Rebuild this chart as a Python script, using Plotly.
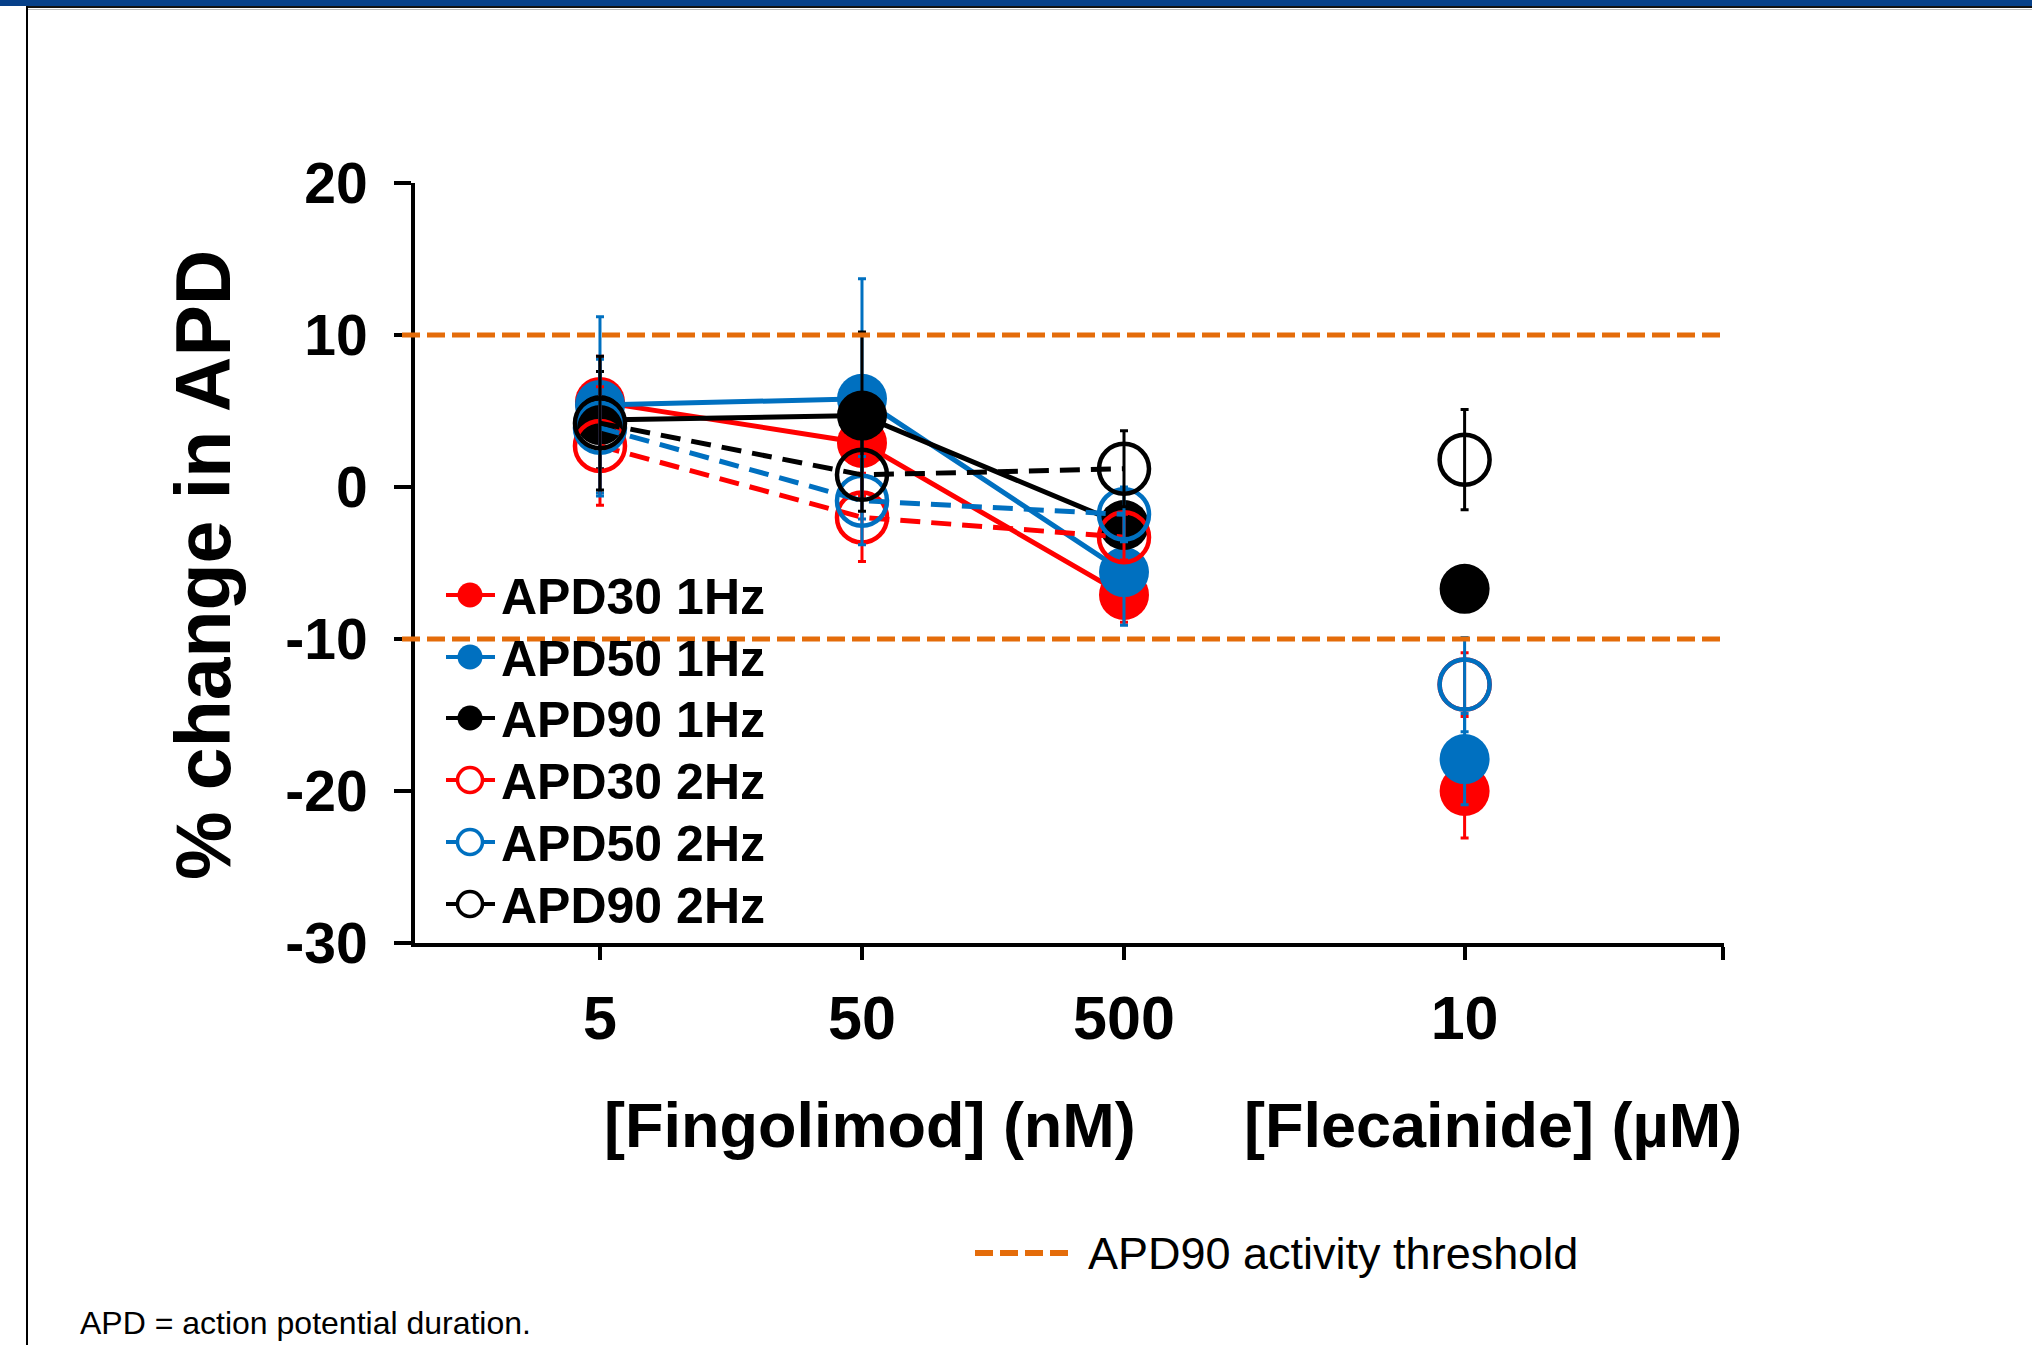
import plotly.graph_objects as go

# ---------------- data ----------------
fingo_doses = ["5", "50", "500"]
flec_doses = ["10"]
fingo_pos = [1, 2, 3]
flec_pos = [4.3]

series_names = ["APD30 1Hz", "APD50 1Hz", "APD90 1Hz", "APD30 2Hz", "APD50 2Hz", "APD90 2Hz"]
series_colors = ["#FF0000", "#0070C0", "#000000", "#FF0000", "#0070C0", "#000000"]
series_open = [False, False, False, True, True, True]

fingo_vals = [
    [5.6, 2.9, -7.1],
    [5.4, 5.8, -5.6],
    [4.4, 4.7, -2.5],
    [2.7, -2.0, -3.3],
    [3.9, -0.9, -1.8],
    [4.2, 0.8, 1.2],
]
fingo_err = [
    [3.0, 3.5, 1.8],
    [5.8, 7.9, 3.5],
    [3.2, 5.5, 1.5],
    [3.9, 2.9, 1.5],
    [4.5, 2.9, 1.8],
    [4.4, 2.4, 2.5],
]
flec_vals = [[-20.0], [-17.9], [-6.7], [-13.0], [-13.0], [1.8]]
flec_err = [[3.1], [3.0], [0.5], [2.1], [3.1], [3.3]]

threshold_vals = [10, -10]
y_ticks = [-30, -20, -10, 0, 10, 20]

# ---------------- layout geometry (px) ----------------
W, H = 2032, 1345
L, R, T, B = 415, 1724, 183, 943
x_range = [0.294, 5.29]


def px(xp):
    return (xp - L) / (R - L)


def py(yp):
    return (B - yp) / (B - T)


FONT = "Liberation Sans, Arial, sans-serif"
ORANGE = "#E46C0A"

fig = go.Figure()

for i, name in enumerate(series_names):
    col = series_colors[i]
    is_open = series_open[i]
    marker = dict(
        size=50,
        color=col,
        symbol="circle-open" if is_open else "circle",
        line=dict(color=col, width=4.5 if is_open else 0),
    )
    fig.add_trace(go.Scatter(
        x=fingo_pos, y=fingo_vals[i], name=name,
        mode="lines+markers",
        line=dict(color=col, width=5, dash="20px,11px" if is_open else "solid"),
        marker=marker,
        error_y=dict(type="data", array=fingo_err[i], color=col, thickness=3, width=4),
        showlegend=False,
    ))
    fig.add_trace(go.Scatter(
        x=flec_pos, y=flec_vals[i], name=name,
        mode="markers",
        marker=marker,
        error_y=dict(type="data", array=flec_err[i], color=col, thickness=3, width=4),
        showlegend=False,
    ))

shapes = []
annotations = []

# threshold lines
for v in threshold_vals:
    shapes.append(dict(type="line", xref="paper", yref="y",
                       x0=px(402), x1=1.0, y0=v, y1=v,
                       line=dict(color=ORANGE, width=5, dash="18px,7px"), layer="above"))
# x axis stub left of y axis
shapes.append(dict(type="line", xref="paper", yref="paper",
                   x0=px(398), x1=0, y0=0, y1=0,
                   line=dict(color="black", width=4)))

# in-plot legend (drawn by hand to match spacing)
leg_row_y = [595, 657, 718, 780, 842, 904]
for i, name in enumerate(series_names):
    col = series_colors[i]
    yy = leg_row_y[i]
    shapes.append(dict(type="line", xref="paper", yref="paper",
                       x0=px(446), x1=px(495), y0=py(yy), y1=py(yy),
                       line=dict(color=col, width=4), layer="above"))
    r = 12.5
    shapes.append(dict(type="circle", xref="paper", yref="paper",
                       x0=px(470 - r), x1=px(470 + r), y0=py(yy + r), y1=py(yy - r),
                       fillcolor="white" if series_open[i] else col,
                       line=dict(color=col, width=3.5 if series_open[i] else 0),
                       layer="above"))
    annotations.append(dict(text=name, x=px(499), y=py(yy + 2), xref="paper", yref="paper",
                            showarrow=False, xanchor="left", yanchor="middle",
                            font=dict(family=FONT, size=50, color="black", weight="bold")))

# threshold legend symbol
shapes.append(dict(type="line", xref="paper", yref="paper",
                   x0=px(975), x1=px(1073), y0=py(1253), y1=py(1253),
                   line=dict(color=ORANGE, width=6, dash="18px,7px")))
# top banner
shapes.append(dict(type="rect", xref="paper", yref="paper",
                   x0=px(0), x1=px(W), y0=py(0), y1=py(6),
                   fillcolor="#064089", line=dict(width=0)))
shapes.append(dict(type="line", xref="paper", yref="paper",
                   x0=px(27), x1=px(W), y0=py(7), y1=py(7),
                   line=dict(color="#111111", width=2)))
shapes.append(dict(type="line", xref="paper", yref="paper",
                   x0=px(27), x1=px(W), y0=py(9.5), y1=py(9.5),
                   line=dict(color="#BBBBBB", width=1)))
# left frame line
shapes.append(dict(type="line", xref="paper", yref="paper",
                   x0=px(27), x1=px(27), y0=py(6), y1=py(H),
                   line=dict(color="black", width=2)))

annotations += [
    dict(text="% change in APD", x=px(203), y=py(565), xref="paper", yref="paper",
         textangle=-90, showarrow=False, xanchor="center", yanchor="middle",
         font=dict(family=FONT, size=77, color="black", weight="bold")),
    dict(text="[Fingolimod] (nM)", x=px(870), y=py(1125), xref="paper", yref="paper",
         showarrow=False, xanchor="center", yanchor="middle",
         font=dict(family=FONT, size=63, color="black", weight="bold")),
    dict(text="[Flecainide] (µM)", x=px(1493), y=py(1125), xref="paper", yref="paper",
         showarrow=False, xanchor="center", yanchor="middle",
         font=dict(family=FONT, size=63, color="black", weight="bold")),
    dict(text="APD90 activity threshold", x=px(1086), y=py(1253), xref="paper", yref="paper",
         showarrow=False, xanchor="left", yanchor="middle",
         font=dict(family=FONT, size=45, color="black")),
    dict(text="APD = action potential duration.", x=px(78), y=py(1323), xref="paper", yref="paper",
         showarrow=False, xanchor="left", yanchor="middle",
         font=dict(family=FONT, size=32, color="black")),
]

fig.update_layout(
    width=W, height=H,
    margin=dict(l=L, r=W - R, t=T, b=H - B, pad=0),
    paper_bgcolor="white", plot_bgcolor="white",
    font=dict(family=FONT, color="black"),
    shapes=shapes,
    annotations=annotations,
    showlegend=False,
    xaxis=dict(
        range=x_range, showgrid=False, zeroline=False,
        showline=True, linecolor="black", linewidth=4,
        ticks="outside", ticklen=13, tickwidth=4, tickcolor="black",
        tickvals=fingo_pos + flec_pos + [x_range[1] - 0.002],
        ticktext=fingo_doses + flec_doses + [""],
        tickfont=dict(family=FONT, size=61, color="black", weight="bold"),
        ticklabelstandoff=6,
    ),
    yaxis=dict(
        range=[-30, 20], showgrid=False, zeroline=False,
        showline=True, linecolor="black", linewidth=4,
        ticks="outside", ticklen=17, tickwidth=4, tickcolor="black",
        tickvals=y_ticks, ticktext=[str(v) for v in y_ticks],
        tickfont=dict(family=FONT, size=57, color="black", weight="bold"),
        ticklabelstandoff=15,
    ),
)

fig.write_html("out.html")
